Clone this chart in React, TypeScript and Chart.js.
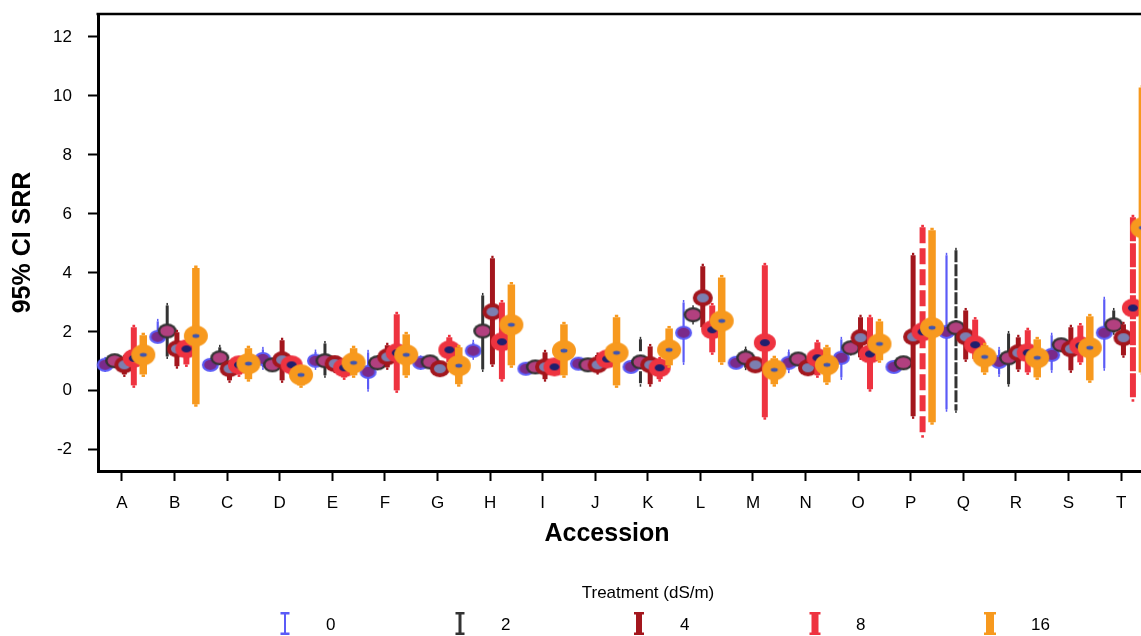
import React, { useEffect, useRef } from "react";
import { Chart, registerables } from "chart.js";

Chart.register(...registerables);

// ---------- data ----------
const accessions = ["A", "B", "C", "D", "E", "F", "G", "H", "I", "J", "K", "L", "M", "N", "O", "P", "Q", "R", "S", "T"];
const treatments = ["0", "2", "4", "8", "16"];
const yTickValues = [-2, 0, 2, 4, 6, 8, 10, 12];

// treatment 0 dS/m
const mean0 = [0.88, 1.83, 0.88, 1.08, 1.02, 0.64, 0.95, 1.36, 0.75, 0.92, 0.81, 1.97, 0.95, 0.95, 1.12, 0.81, 2.0, 0.98, 1.22, 1.97];
const low0 = [0.64, 1.66, 0.72, 0.71, 0.71, -0.03, 0.72, 1.05, 0.6, 0.75, 0.65, 0.88, 0.8, 0.6, 0.37, 0.68, -0.71, 0.47, 0.61, 0.68];
const high0 = [1.15, 2.44, 1.05, 1.49, 1.4, 1.39, 1.2, 1.73, 0.9, 1.1, 0.98, 3.08, 1.1, 1.4, 1.83, 0.95, 4.68, 1.49, 1.97, 3.19];

// treatment 2 dS/m
const mean2 = [1.02, 2.03, 1.12, 0.88, 1.02, 0.95, 0.98, 2.03, 0.81, 0.88, 0.98, 2.58, 1.12, 1.08, 1.46, 0.95, 2.14, 1.12, 1.56, 2.24];
const low2 = [0.85, 1.08, 0.88, 0.72, 0.44, 0.7, 0.75, 0.64, 0.62, 0.72, 0.14, 2.25, 0.7, 0.88, 1.2, 0.8, -0.75, 0.14, 1.35, 1.9];
const high2 = [1.2, 2.98, 1.56, 1.05, 1.69, 1.2, 1.2, 3.32, 1.0, 1.05, 1.83, 2.9, 1.5, 1.25, 1.7, 1.1, 4.85, 2.03, 1.75, 2.81];

// treatment 4 dS/m
const mean4 = [0.88, 1.42, 0.75, 1.05, 0.92, 1.15, 0.75, 2.68, 0.81, 0.88, 0.88, 3.15, 0.88, 0.78, 1.8, 1.83, 1.83, 1.29, 1.42, 1.8];
const low4 = [0.47, 0.75, 0.27, 0.27, 0.6, 0.71, 0.55, 0.81, 0.31, 0.55, 0.14, 2.07, 0.7, 0.55, 1.05, -0.95, 0.98, 0.64, 0.61, 1.12];
const high4 = [1.22, 2.07, 0.98, 1.8, 1.1, 1.63, 1.0, 4.58, 1.39, 1.3, 1.59, 4.31, 1.05, 1.05, 2.58, 4.68, 2.81, 1.9, 2.24, 2.34];

// treatment 8 dS/m
const mean8 = [1.1, 1.42, 0.88, 0.88, 0.78, 1.29, 1.39, 1.66, 0.81, 1.08, 0.78, 2.07, 1.63, 1.12, 1.25, 2.0, 1.56, 1.29, 1.53, 2.81];
const low8 = [0.1, 0.81, 0.47, 0.47, 0.37, -0.07, 0.88, 0.31, 0.6, 0.8, 0.31, 1.22, -0.98, 0.44, -0.03, -1.59, 1.0, 0.54, 0.88, -0.37];
const high8 = [2.24, 1.8, 1.12, 1.15, 1.12, 2.68, 1.9, 3.08, 1.0, 1.35, 1.15, 2.98, 4.34, 1.73, 2.58, 5.63, 2.5, 2.14, 2.3, 5.97];

// treatment 16 dS/m
const mean16 = [1.22, 1.86, 0.92, 0.54, 0.95, 1.22, 0.85, 2.24, 1.36, 1.29, 1.39, 2.37, 0.71, 0.88, 1.59, 2.14, 1.15, 1.12, 1.46, 5.53];
const low16 = [0.47, -0.54, 0.31, 0.1, 0.44, 0.44, 0.14, 0.78, 0.44, 0.1, 0.78, 0.88, 0.14, 0.2, 0.95, -1.15, 0.54, 0.37, 0.27, 0.54];
const high16 = [1.97, 4.25, 1.53, 0.88, 1.53, 2.0, 1.56, 3.69, 2.34, 2.58, 2.2, 3.93, 1.19, 1.56, 2.44, 5.53, 1.63, 1.83, 2.61, 10.37];

const MEANS = [mean0, mean2, mean4, mean8, mean16];
const LOWS = [low0, low2, low4, low8, low16];
const HIGHS = [high0, high2, high4, high8, high16];

// ---------- styles ----------
const COLORS = ["#5b5bf7", "#333333", "#a3161d", "#ee3340", "#f7991e"];
const INNER = ["#7a2a8a", "#b2407f", "#7c7fb0", "#1f1f6e", "#3f55b0"];
const DODGE = [-0.32, -0.14, 0.045, 0.225, 0.405];
const BAR_W = [2.2, 3, 5, 6, 7.5];
const MARKER = [
  { ow: 17, oh: 14, iw: 12.5, ih: 10 },
  { ow: 19, oh: 15, iw: 14, ih: 10.5 },
  { ow: 20, oh: 17, iw: 12, ih: 9 },
  { ow: 22, oh: 19, iw: 10, ih: 7 },
  { ow: 24, oh: 21, iw: 7, ih: 3.8 },
];
const DASHES: Record<string, number[]> = {
  "1-10": [12, 4],
  "3-15": [16, 5],
  "1-16": [12, 2],
  "3-19": [24, 2],
};
const LEGEND_X = [285, 460, 639, 815, 990];
const LEGEND_LW = [2, 3, 6, 7, 8];
const LEGEND_CW = [9, 9, 10, 11, 12];
const FONT = "'Liberation Sans', Arial, Helvetica, sans-serif";

function makeMarker(t: number): HTMLCanvasElement {
  const m = MARKER[t];
  const c = document.createElement("canvas");
  c.width = Math.ceil(m.ow + 2);
  c.height = Math.ceil(m.oh + 2);
  const g = c.getContext("2d")!;
  const cx = c.width / 2;
  const cy = c.height / 2;
  g.fillStyle = COLORS[t];
  g.beginPath();
  g.ellipse(cx, cy, m.ow / 2, m.oh / 2, 0, 0, Math.PI * 2);
  g.fill();
  g.fillStyle = INNER[t];
  g.beginPath();
  g.ellipse(cx, cy, m.iw / 2, m.ih / 2, 0, 0, Math.PI * 2);
  g.fill();
  return c;
}

function drawErrorBar(
  ctx: CanvasRenderingContext2D,
  x: number,
  yLow: number,
  yHigh: number,
  w: number,
  color: string,
  dash?: number[]
) {
  const tip = 2.5;
  const tw = Math.max(1.5, w * 0.45);
  ctx.save();
  ctx.strokeStyle = color;
  ctx.lineWidth = w;
  ctx.lineCap = "butt";
  if (dash) ctx.setLineDash(dash);
  ctx.beginPath();
  ctx.moveTo(x, yHigh + tip);
  ctx.lineTo(x, yLow - tip);
  ctx.stroke();
  ctx.setLineDash([]);
  ctx.fillStyle = color;
  ctx.fillRect(x - tw / 2, yHigh, tw, tip);
  ctx.fillRect(x - tw / 2, yLow - tip, tw, tip);
  ctx.restore();
}

const errorBarPlugin = {
  id: "errorBarsAndDecor",
  beforeDatasetDraw(chart: any, args: any) {
    const t = args.index;
    const xs = chart.scales.x;
    const ys = chart.scales.y;
    const ctx = chart.ctx as CanvasRenderingContext2D;
    accessions.forEach((_, i) => {
      const x = xs.getPixelForValue(i + DODGE[t]);
      drawErrorBar(
        ctx,
        x,
        ys.getPixelForValue(LOWS[t][i]),
        ys.getPixelForValue(HIGHS[t][i]),
        BAR_W[t],
        COLORS[t],
        DASHES[`${t}-${i}`]
      );
    });
  },
  afterDraw(chart: any) {
    const ctx = chart.ctx as CanvasRenderingContext2D;
    const area = chart.chartArea;
    ctx.save();
    // top frame line
    ctx.strokeStyle = "#000";
    ctx.lineWidth = 2.5;
    ctx.beginPath();
    ctx.moveTo(area.left - 1.5, area.top);
    ctx.lineTo(area.right, area.top);
    ctx.stroke();
    // x axis title
    ctx.fillStyle = "#000";
    ctx.font = `bold 25px ${FONT}`;
    ctx.textAlign = "center";
    ctx.textBaseline = "middle";
    ctx.fillText("Accession", 607, 534);
    // legend
    ctx.font = `17px ${FONT}`;
    ctx.fillText("Treatment (dS/m)", 648, 593);
    treatments.forEach((label, t) => {
      const cx = LEGEND_X[t];
      const top = 612;
      const bot = 635;
      const lw = LEGEND_LW[t];
      const cw = LEGEND_CW[t];
      ctx.fillStyle = COLORS[t];
      ctx.fillRect(cx - lw / 2, top, lw, bot - top);
      ctx.fillRect(cx - cw / 2, top, cw, 2.5);
      ctx.fillRect(cx - cw / 2, bot - 2.5, cw, 2.5);
      ctx.fillStyle = "#000";
      ctx.textAlign = "left";
      ctx.fillText(label, cx + 41, 625);
    });
    ctx.restore();
  },
};

function zeroPad(s: any) {
  s.paddingTop = 0;
  s.paddingBottom = 0;
  s.paddingLeft = 0;
  s.paddingRight = 0;
}

export default function App() {
  const canvasRef = useRef<HTMLCanvasElement | null>(null);

  useEffect(() => {
    if (!canvasRef.current) return;
    Chart.defaults.font.family = FONT;
    const datasets = treatments.map((tr, t) => ({
      label: tr,
      data: accessions.map((_, i) => ({ x: i + DODGE[t], y: MEANS[t][i] })),
      pointStyle: makeMarker(t) as any,
      pointRadius: 10,
      showLine: false,
      order: treatments.length - 1 - t,
      clip: false as any,
    }));

    const chart = new Chart(canvasRef.current, {
      type: "scatter",
      data: { datasets },
      plugins: [errorBarPlugin],
      options: {
        responsive: false,
        devicePixelRatio: 1,
        animation: false,
        layout: { autoPadding: false, padding: { top: 14, right: 5, left: 0, bottom: 0 } },
        plugins: {
          legend: { display: false },
          tooltip: { enabled: false },
          title: { display: false },
        },
        events: [],
        scales: {
          x: {
            type: "linear",
            min: -0.456,
            max: 19.74,
            afterFit: (s: any) => {
              s.height = 165;
              zeroPad(s);
            },
            afterBuildTicks: (s: any) => {
              s.ticks = accessions.map((_, i) => ({ value: i }));
            },
            ticks: {
              autoSkip: false,
              maxRotation: 0,
              minRotation: 0,
              padding: 12,
              color: "#000",
              font: { size: 17 },
              callback: (v: any) => accessions[Math.round(Number(v))] ?? "",
            },
            grid: {
              drawOnChartArea: false,
              drawTicks: true,
              tickLength: 10,
              tickWidth: 2,
              tickColor: "#000",
            },
            border: { display: true, color: "#000", width: 3 },
          },
          y: {
            type: "linear",
            min: -2.72,
            max: 12.78,
            afterFit: (s: any) => {
              s.width = 98;
              zeroPad(s);
            },
            afterBuildTicks: (s: any) => {
              s.ticks = yTickValues.map((v) => ({ value: v }));
            },
            ticks: {
              padding: 16,
              color: "#000",
              font: { size: 17 },
              callback: (v: any) => String(v),
            },
            grid: {
              drawOnChartArea: false,
              drawTicks: true,
              tickLength: 10,
              tickWidth: 2,
              tickColor: "#000",
            },
            border: { display: true, color: "#000", width: 3 },
            title: {
              display: true,
              text: "95% CI SRR",
              color: "#000",
              font: { size: 25, weight: "bold" },
              padding: { top: 8, bottom: 0 },
            },
          },
        },
      },
    });
    return () => chart.destroy();
  }, []);

  return (
    <div
      style={{
        position: "absolute",
        left: 0,
        top: 0,
        width: 1141,
        height: 636,
        overflow: "hidden",
        background: "#fff",
      }}
    >
      <canvas
        ref={canvasRef}
        width={1165}
        height={636}
        style={{ display: "block", width: 1165, height: 636 }}
      />
    </div>
  );
}
